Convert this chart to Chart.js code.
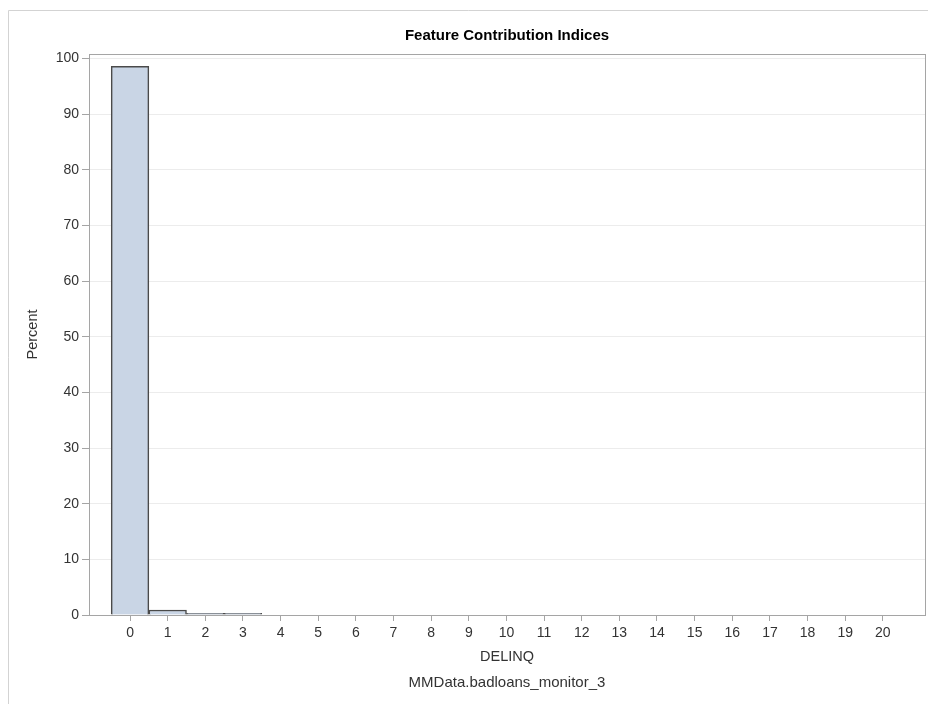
<!DOCTYPE html>
<html>
<head>
<meta charset="utf-8">
<script src="https://cdn.jsdelivr.net/npm/chart.js@4"></script>
<style>
  body { margin: 0; background: #fff; }
  #wrap { width: 928px; height: 704px; }
</style>
</head>
<body>
<div id="wrap"><canvas id="myChart" width="928" height="704"></canvas></div>
<script>
const delinqValues = [0, 1, 2, 3];
const percentValues = [98.6, 0.9, 0.3, 0.3];
const xTickLabels = [0, 1, 2, 3, 4, 5, 6, 7, 8, 9, 10, 11, 12, 13, 14, 15, 16, 17, 18, 19, 20];
const yTickLabels = [0, 10, 20, 30, 40, 50, 60, 70, 80, 90, 100];
const chartTitle = "Feature Contribution Indices";
const footnote = "MMData.badloans_monitor_3";

const FONT = "'Liberation Sans', Arial, sans-serif";

// frame, outer border and the centred title / footnote
const framePlugin = {
    id: "frame",
    beforeDraw(chart) {
        const c = chart.ctx;
        c.save();
        c.strokeStyle = "#d3d3d3";
        c.lineWidth = 1;
        c.beginPath();
        c.moveTo(8.5, 704);
        c.lineTo(8.5, 10.5);
        c.lineTo(928, 10.5);
        c.stroke();
        c.restore();
    },
    afterDraw(chart) {
        const a = chart.chartArea;
        const c = chart.ctx;
        c.save();
        c.strokeStyle = "#a5a5a5";
        c.lineWidth = 1;
        c.strokeRect(Math.round(a.left) + 0.5, Math.round(a.top) + 0.5,
            Math.round(a.right - a.left), Math.round(a.bottom - a.top));
        const cx = (a.left + a.right) / 2;
        c.fillStyle = "#000";
        c.textAlign = "center";
        c.textBaseline = "middle";
        c.font = "bold 15px " + FONT;
        c.fillText(chartTitle, cx, 36);
        c.fillStyle = "#333";
        c.font = "15px " + FONT;
        c.fillText(footnote, cx, 683);
        c.restore();
    }
};

const ctx = document.getElementById("myChart").getContext("2d");
const myChart = new Chart(ctx, {
    type: "bar",
    data: {
        datasets: [{
            label: "Percent",
            data: delinqValues.map((x, i) => ({ x: x, y: percentValues[i] })),
            backgroundColor: "#c9d5e5",
            borderColor: "#4a4a4a",
            borderWidth: 1.5,
            barPercentage: 1,
            categoryPercentage: 1,
        }],
    },
    options: {
        responsive: false,
        animation: false,
        layout: { padding: { left: 0, top: 54, right: 3, bottom: 0 } },
        plugins: {
            legend: { display: false },
            tooltip: { enabled: false },
        },
        scales: {
            x: {
                type: "linear",
                min: -1.09,
                max: 21.12,
                offset: false,
                afterBuildTicks: function (scale) {
                    scale.ticks = xTickLabels.map(v => ({ value: v }));
                },
                afterFit: function (scale) { scale.height = 89; },
                grid: { offset: false, drawOnChartArea: false, drawTicks: true, tickLength: 6, tickColor: "#a5a5a5" },
                border: { display: false },
                ticks: { color: "#333", font: { family: FONT, size: 14 }, padding: 4, maxRotation: 0, autoSkip: false },
                title: { display: true, text: "DELINQ", color: "#333", font: { family: FONT, size: 14.5 }, padding: { top: 0, bottom: 38 } },
            },
            y: {
                min: 0,
                max: 100.8,
                afterBuildTicks: function (scale) {
                    scale.ticks = yTickLabels.map(v => ({ value: v }));
                },
                afterFit: function (scale) { scale.width = 89; },
                grid: { color: "#ececec", drawTicks: true, tickLength: 7, tickColor: "#a5a5a5" },
                border: { display: false },
                ticks: { color: "#333", font: { family: FONT, size: 14 }, padding: 3 },
                title: { display: true, text: "Percent", color: "#333", font: { family: FONT, size: 14.5 }, padding: { top: 24, bottom: 0 } },
            },
        },
    },
    plugins: [framePlugin],
});
</script>
</body>
</html>
